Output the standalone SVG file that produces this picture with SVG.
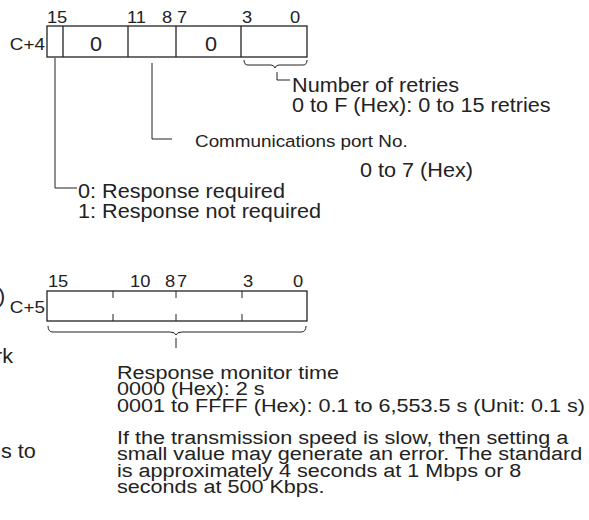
<svg xmlns="http://www.w3.org/2000/svg" width="589" height="520" viewBox="0 0 589 520">
<style>
text{font-family:"Liberation Sans",Arial,sans-serif;font-size:19.5px;fill:#222}
.b{font-size:16.5px}
.r{font-size:17px}
.p{font-size:19px}
.ln{stroke:#222;stroke-width:1.3;fill:none}
.tk{stroke:#222;stroke-width:1;fill:none}
</style>
<rect width="589" height="520" fill="#fff"/>
<g id="edge-fragments" transform="scale(1.11 1)">
<text x="-1.8" y="303">)</text>
<text x="-4.5" y="363">rk</text>
<text x="0.9" y="458">s to</text>
</g>
<g id="register-c4">
<rect x="47" y="26" width="260" height="31" class="ln"/>
<line x1="63" y1="26" x2="63" y2="57" class="ln"/>
<line x1="128" y1="26" x2="128" y2="57" class="ln"/>
<line x1="176" y1="26" x2="176" y2="57" class="ln"/>
<line x1="241" y1="26" x2="241" y2="57" class="ln"/>
<g transform="scale(1.11 1)">
<text x="42.3" y="23" class="b">15</text>
<text x="114.4" y="23" class="b">11</text>
<text x="145.9" y="23" class="b">8</text>
<text x="159.5" y="23" class="b">7</text>
<text x="218" y="23" class="b">3</text>
<text x="261.3" y="23" class="b">0</text>
<text x="40.5" y="50" class="r" text-anchor="end">C+4</text>
<text x="86.5" y="51" text-anchor="middle">0</text>
<text x="190.1" y="51" text-anchor="middle">0</text>
</g>
</g>
<g id="register-c5">
<rect x="47" y="291" width="260" height="30" class="ln"/>
<path d="M113 291v7M113 314v7M176 291v7M176 314v7M242 291v7M242 314v7" class="tk"/>
<g transform="scale(1.11 1)">
<text x="43.2" y="287" class="b">15</text>
<text x="117.1" y="287" class="b">10</text>
<text x="148.6" y="287" class="b">8</text>
<text x="159.5" y="287" class="b">7</text>
<text x="218.9" y="287" class="b">3</text>
<text x="264" y="287" class="b">0</text>
<text x="40.5" y="313" class="r" text-anchor="end">C+5</text>
</g>
</g>
<g id="connectors">
<path d="M244 60q0 5 4 5h23q3 0 4 3q1 -3 4 -3h24q4 0 4 -5" class="tk"/>
<path d="M277 72V80H290" class="tk"/>
<path d="M152 63V139H172" class="tk"/>
<path d="M55 58V188H77" class="tk"/>
<path d="M48 326q0 6 5 6h117q5 0 6 3q1 -3 6 -3h119q5 0 5 -6" class="tk"/>
<path d="M176 338V348" class="tk"/>
</g>
<g id="label-retries" transform="scale(1.11 1)">
<text x="263.1" y="92">Number of retries</text>
<text x="263.1" y="112">0 to F (Hex): 0 to 15 retries</text>
</g>
<g id="label-port" transform="scale(1.11 1)">
<text x="175.7" y="147" class="r">Communications port No.</text>
<text x="324.3" y="177">0 to 7 (Hex)</text>
</g>
<g id="label-response" transform="scale(1.11 1)">
<text x="70.3" y="198">0: Response required</text>
<text x="70.3" y="218">1: Response not required</text>
</g>
<g id="label-monitor" transform="scale(1.137 1)">
<text x="102.9" y="379" class="p">Response monitor time</text>
<text x="102.9" y="395" class="p">0000 (Hex): 2 s</text>
<text x="102.9" y="412" class="p">0001 to FFFF (Hex): 0.1 to 6,553.5 s (Unit: 0.1 s)</text>
<text x="102.9" y="444" class="p">If the transmission speed is slow, then setting a</text>
<text x="102.9" y="460" class="p">small value may generate an error. The standard</text>
<text x="102.9" y="477" class="p">is approximately 4 seconds at 1 Mbps or 8</text>
<text x="102.9" y="493" class="p">seconds at 500 Kbps.</text>
</g>
</svg>
